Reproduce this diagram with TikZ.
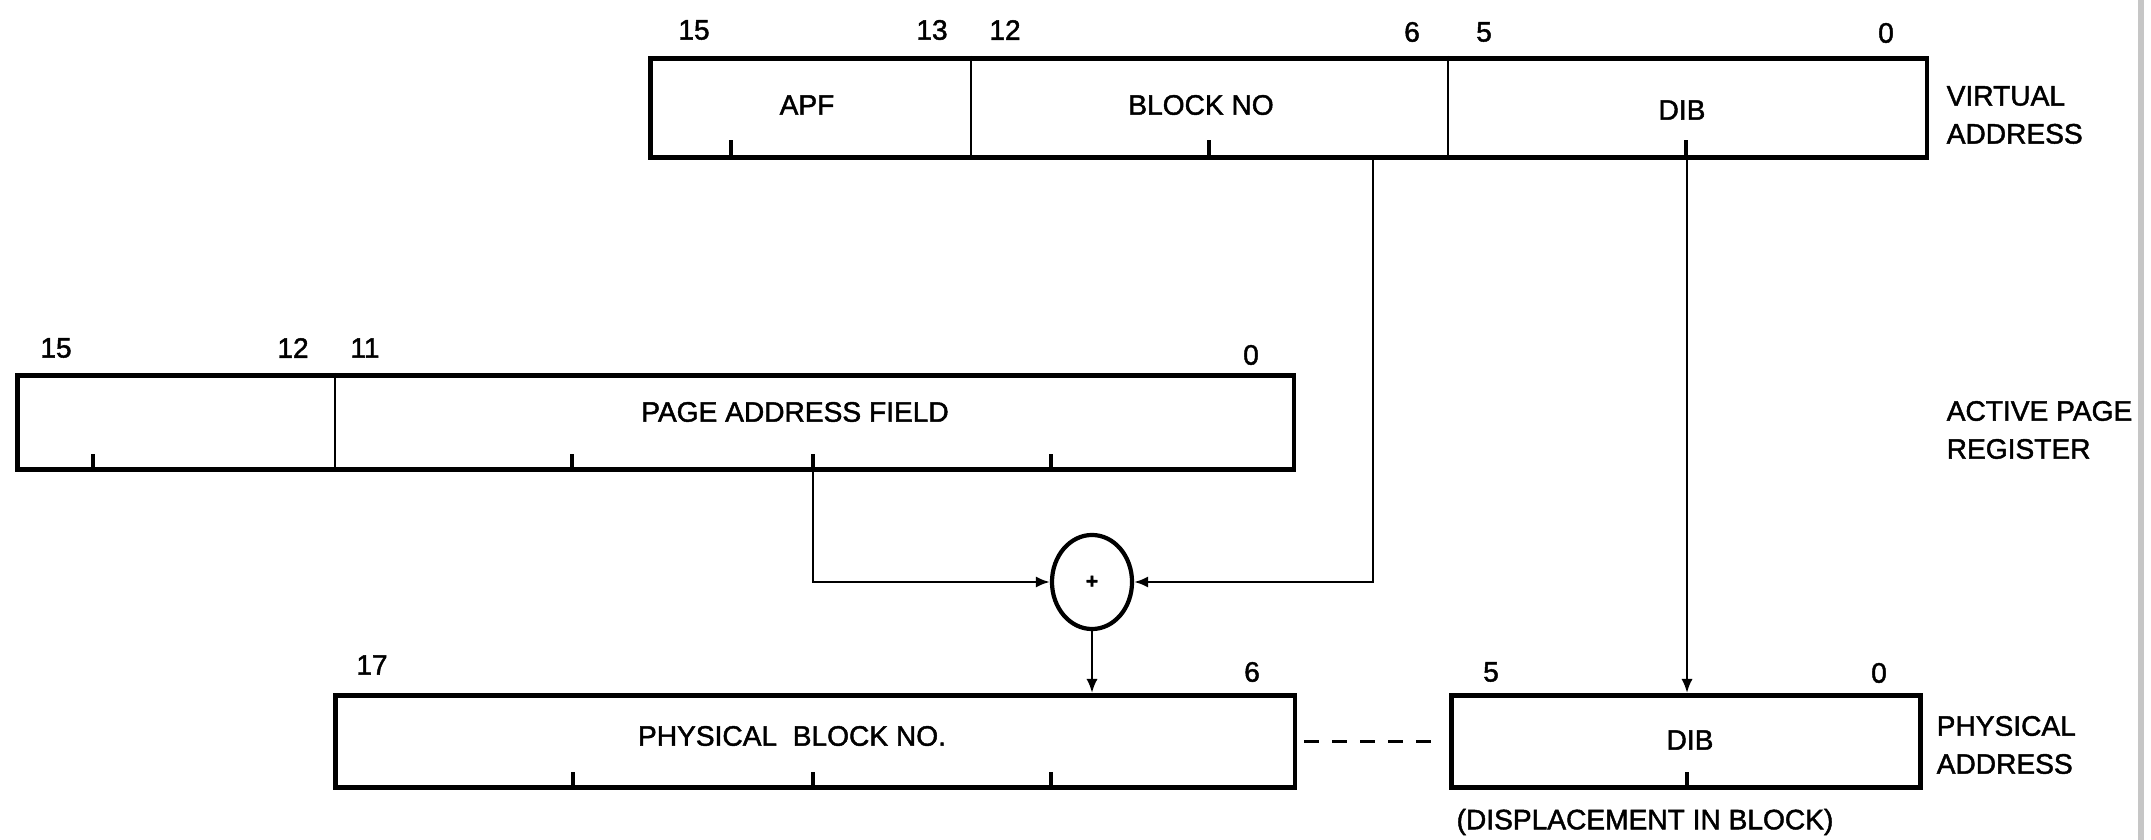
\documentclass[tikz,border=0pt]{standalone}
\usepackage{fontspec}
\setmainfont{Liberation Sans}[RawFeature={embolden=1.6}]
\usetikzlibrary{arrows.meta,shapes.geometric}
\begin{document}
\begin{tikzpicture}[x=0.01cm,y=-0.01cm,
  font=\fontsize{8}{10.8}\selectfont,
  regbox/.style={draw, line width=1.3pt, inner sep=0pt, anchor=north west},
  divider/.style={line width=0.7pt},
  tickmark/.style={line width=0.9pt},
  conn/.style={line width=0.7pt},
  arr/.style={conn, -{Latex[length=4pt,width=3.2pt]}},
  dashline/.style={line width=0.9pt, dash pattern=on 0.15cm off 0.13cm},
  bitno/.style={inner sep=0pt},
  field/.style={inner sep=0pt},
  side/.style={align=left, anchor=west, inner sep=0pt},
  sumnode/.style={draw, ellipse, line width=1.2pt, inner sep=0pt, minimum width=0.8cm, minimum height=0.94cm}]

\useasboundingbox (0,0) rectangle (2151,840);

% scan border
\draw[gray!45, line width=0.06cm] (2141,0) -- (2141,840);

% ---------------- virtual address ----------------
\node[regbox, minimum width=12.76cm, minimum height=0.99cm] (va) at (648,56) {};
\draw[divider] (971,0 |- va.north) -- (971,0 |- va.south);
\draw[divider] (1448,0 |- va.north) -- (1448,0 |- va.south);
\foreach \t in {731,1209,1686} \draw[tickmark] (\t,0 |- va.south) -- ++(0,-20);
\node[bitno] (va15) at (694,30) {15};
\node[bitno] (va13) at (932,30) {13};
\node[bitno] (va12) at (1005,30) {12};
\node[bitno] (va6)  at (1412,32) {6};
\node[bitno] (va5)  at (1484,32) {5};
\node[bitno] (va0)  at (1886,33) {0};
\node[field] (apf) at (807,105) {APF};
\node[field] (blk) at (1201,105) {BLOCK NO};
\node[field] (vdib) at (1682,110) {DIB};
\node[side] (vlab) at (1946,115) {VIRTUAL\\ADDRESS};

% ---------------- active page register ----------------
\node[regbox, minimum width=12.76cm, minimum height=0.94cm] (apr) at (15,373) {};
\draw[divider] (335,0 |- apr.north) -- (335,0 |- apr.south);
\foreach \t in {93,572,813,1051} \draw[tickmark] (\t,0 |- apr.south) -- ++(0,-18);
\node[bitno] (a15) at (56,348) {15};
\node[bitno] (a12) at (293,348) {12};
\node[bitno] (a11) at (365,348) {11};
\node[bitno] (a0)  at (1251,355) {0};
\node[field] (paf) at (795,412) {PAGE ADDRESS FIELD};
\node[side] (alab) at (1946,430) {ACTIVE PAGE\\REGISTER};

% ---------------- adder ----------------
\node[sumnode] (sum) at (1092,582) {\fontsize{6}{6}\selectfont\bfseries +};

% ---------------- physical address ----------------
\node[regbox, minimum width=9.59cm, minimum height=0.92cm] (pbn) at (333,693) {};
\foreach \t in {573,813,1051} \draw[tickmark] (\t,0 |- pbn.south) -- ++(0,-18);
\node[bitno] (p17) at (372,665) {17};
\node[bitno] (p6)  at (1252,672) {6};
\node[field] (pbnt) at (792,736) {PHYSICAL\ \ BLOCK NO.};

\node[regbox, minimum width=4.69cm, minimum height=0.92cm] (pdib) at (1449,693) {};
\draw[tickmark] (1687,0 |- pdib.south) -- ++(0,-18);
\node[bitno] (d5) at (1491,672) {5};
\node[bitno] (d0) at (1879,673) {0};
\node[field] (pdibt) at (1690,740) {DIB};
\node[field] (disp) at (1645,822) {(DISPLACEMENT IN BLOCK)};
\node[side] (plab) at (1936,745) {PHYSICAL\\ADDRESS};

% ---------------- connectors ----------------
\coordinate (pafT) at (813,0 |- apr.south);
\coordinate (blkT) at (1373,0 |- va.south);
\coordinate (dibT) at (1687,0 |- va.south);
\draw[arr] (pafT) |- (sum.west);
\draw[arr] (blkT) |- (sum.east);
\draw[arr] (sum.south) -- (sum.south |- pbn.north);
\draw[arr] (dibT) -- (dibT |- pdib.north);
\draw[dashline, shorten <=0.07cm, shorten >=0.16cm] (pbn.east) -- (pbn.east -| pdib.west);
\end{tikzpicture}
\end{document}
